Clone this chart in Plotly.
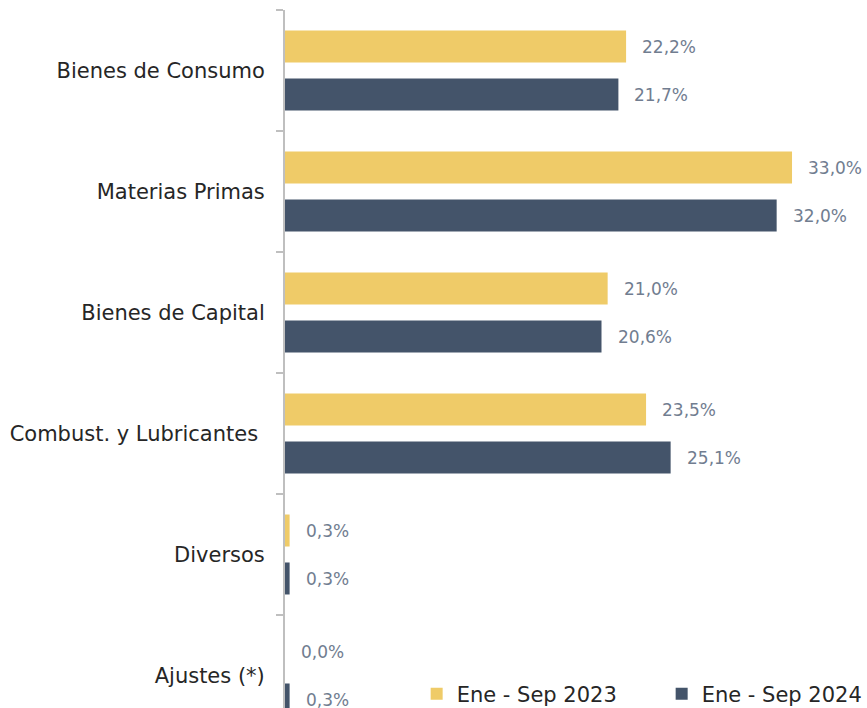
import plotly.graph_objects as go

categories = ["Bienes de Consumo", "Materias Primas", "Bienes de Capital",
              "Combust. y Lubricantes ", "Diversos", "Ajustes (*)"]
series_names = ["Ene - Sep 2023", "Ene - Sep 2024"]
values_2023 = [22.2, 33.0, 21.0, 23.5, 0.3, 0.0]
values_2024 = [21.7, 32.0, 20.6, 25.1, 0.3, 0.3]
colors = ["#EFCB68", "#44546A"]

FONT = "DejaVu Sans"
W, H = 867, 708
ML, MT = 285, 10
plot_h = H - MT
cat_px = 121

fig = go.Figure()
for name, vals, col in zip(series_names, [values_2023, values_2024], colors):
    fig.add_trace(go.Bar(
        y=categories, x=vals, name=name, orientation="h",
        marker=dict(color=col, line=dict(width=0)),
    ))

def fmt(v):
    return f"{v:.1f}".replace(".", ",") + "%"

annotations = []
for vals, shift in [(values_2023, 24), (values_2024, -24)]:
    for c, v in zip(categories, vals):
        annotations.append(dict(
            x=v, y=c, xref="x", yref="y", text=fmt(v), showarrow=False,
            xanchor="left", yanchor="middle", xshift=14, yshift=shift,
            font=dict(family=FONT, size=17, color="#717D90"),
        ))

fig.update_layout(
    width=W, height=H,
    margin=dict(l=ML, r=2, t=MT, b=0, pad=0, autoexpand=False),
    paper_bgcolor="white", plot_bgcolor="white",
    barmode="group", bargap=0.207, bargroupgap=0.333,
    font=dict(family=FONT, size=21, color="#262626"),
    showlegend=True,
    legend=dict(orientation="h", x=0.227, y=0.02, xanchor="left", yanchor="middle",
                font=dict(family=FONT, size=21, color="#262626"),
                entrywidth=200, entrywidthmode="pixels", bgcolor="rgba(0,0,0,0)",
                itemwidth=30),
    annotations=annotations,
)
fig.update_xaxes(range=[0, 37.75], visible=False, showgrid=False, zeroline=False)
fig.update_yaxes(
    type="category", automargin=False,
    range=[-0.5 + plot_h / cat_px, -0.5],
    showline=True, linecolor="#BFBFBF", linewidth=2,
    ticks="outside", ticklen=7, tickcolor="#BFBFBF", tickwidth=2,
    tickson="boundaries", showgrid=False, zeroline=False,
    ticklabelstandoff=14,
    tickfont=dict(family=FONT, size=21, color="#262626"),
)
fig.write_html("out.html", config={"displayModeBar": False},
               post_script="document.body.style.margin='0';document.body.style.padding='0';")
